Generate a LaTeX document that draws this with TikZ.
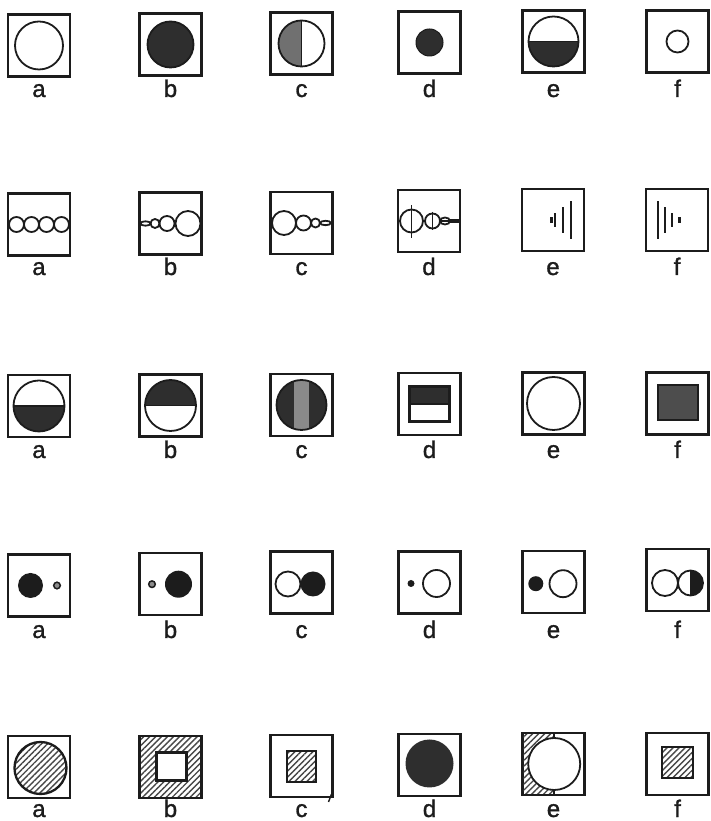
\documentclass[tikz,border=0pt]{standalone}
\usepackage{fontspec}
\setmainfont{Liberation Sans}
\newfontfamily\labfont[FakeBold=1.2]{Liberation Sans}
\usetikzlibrary{patterns.meta}
\definecolor{ink}{HTML}{1C1C1C}
\definecolor{darkfill}{HTML}{2E2E2E}
\definecolor{midfill}{HTML}{707070}
\definecolor{bandfill}{HTML}{8A8A8A}
\begin{document}
\begin{tikzpicture}[x=1pt,y=1pt,
  cell/.style={draw=ink,line width=2.3pt,minimum size=62pt,inner sep=0pt,outer sep=0pt},
  lab/.style={anchor=base,font=\labfont\fontsize{24}{24}\selectfont,text=ink,inner sep=0pt},
  ln/.style={draw=ink,line width=1.8pt},
  bar/.style={draw=ink,line width=2.3pt},
  hatch/.style={pattern={Lines[angle=45,distance=4.2pt,line width=1.4pt]},pattern color=black!72},
]
\useasboundingbox (0,0) rectangle (710,821);

% ---------------- Row 1 ----------------
\node[cell] (r1a) at (39,775.5) {};
\node[cell] (r1b) at (170.5,776.5) {};
\node[cell] (r1c) at (301.5,777.5) {};
\node[cell] (r1d) at (429.5,778.5) {};
\node[cell] (r1e) at (553.5,779.5) {};
\node[cell] (r1f) at (677.5,779.5) {};
\begin{scope}[shift={(r1a)}] \draw[ln] (0,0) circle (24); \end{scope}
\begin{scope}[shift={(r1b)}] \fill[darkfill] (0,0) circle (23); \draw[ln] (0,0) circle (23); \end{scope}
\begin{scope}[shift={(r1c)}]
  \fill[midfill] (0,23) arc[start angle=90,end angle=270,radius=23] -- cycle;
  \draw[ln] (0,0) circle (23); \draw[ln] (0,23) -- (0,-23);
\end{scope}
\begin{scope}[shift={(r1d)}] \fill[darkfill] (0,0) circle (13.5); \draw[ln,line width=1pt] (0,0) circle (13.5); \end{scope}
\begin{scope}[shift={(r1e)}]
  \fill[darkfill] (-25,0) arc[start angle=180,end angle=360,radius=25] -- cycle;
  \draw[ln] (0,0) circle (25); \draw[ln] (-25,0) -- (25,0);
\end{scope}
\begin{scope}[shift={(r1f)}] \draw[ln] (0,0) circle (11); \end{scope}
\node[lab] (l1a) at (39,724) {a};
\node[lab] (l1b) at (170.5,724) {b};
\node[lab] (l1c) at (301.5,724) {c};
\node[lab] (l1d) at (429.5,724) {d};
\node[lab] (l1e) at (553.5,724) {e};
\node[lab] (l1f) at (677.5,724) {f};

% ---------------- Row 2 ----------------
\node[cell] (r2a) at (39,596.5) {};
\node[cell] (r2b) at (170.5,597.5) {};
\node[cell] (r2c) at (301.5,598) {};
\node[cell] (r2d) at (429,600) {};
\node[cell] (r2e) at (553,601) {};
\node[cell] (r2f) at (677,601) {};
\begin{scope}[shift={(r2a)}]
  \foreach \dx in {-22.5,-7.5,7.5,22.5} \draw[ln] (\dx,0) circle (7.5);
\end{scope}
\begin{scope}[shift={(r2b)}]
  \draw[ln] (-25,0) ellipse [x radius=5,y radius=2.2];
  \draw[ln] (-15.5,0) circle (4.5);
  \draw[ln] (-3.5,0) circle (7.5);
  \draw[ln] (17.5,0) circle (12.5);
\end{scope}
\begin{scope}[shift={(r2c)}]
  \draw[ln] (-17.5,0) circle (12);
  \draw[ln] (2,0) circle (7.5);
  \draw[ln] (14,0) circle (4.5);
  \draw[ln] (24,0) ellipse [x radius=5.5,y radius=2.2];
\end{scope}
\begin{scope}[shift={(r2d)}]
  \draw[ln] (-17.5,0) circle (11.5); \draw[ln] (-17.5,15.5) -- (-17.5,-17.5);
  \draw[ln] (3.5,0) circle (7.5); \draw[ln] (3.5,9) -- (3.5,-9);
  \draw[ln] (16,0) ellipse [x radius=5,y radius=3.5]; \draw[ln] (11,0) -- (21,0);
  \fill[ink] (21,-2.2) rectangle (30,2.2);
\end{scope}
\begin{scope}[shift={(r2e)}]
  \draw[bar,line width=3pt] (-2,-3) -- (-2,3);
  \draw[bar] (2,-7) -- (2,7);
  \draw[bar] (10,-13) -- (10,13);
  \draw[bar] (18,-19) -- (18,19);
\end{scope}
\begin{scope}[shift={(r2f)}]
  \draw[bar] (-19,-19) -- (-19,19);
  \draw[bar] (-12,-13) -- (-12,13);
  \draw[bar] (-5,-7) -- (-5,7);
  \draw[bar,line width=3pt] (2,-3) -- (2,3);
\end{scope}
\node[lab] (l2a) at (39,546) {a};
\node[lab] (l2b) at (170.5,546) {b};
\node[lab] (l2c) at (301.5,546) {c};
\node[lab] (l2d) at (429,546) {d};
\node[lab] (l2e) at (553,546) {e};
\node[lab] (l2f) at (677,546) {f};

% ---------------- Row 3 ----------------
\node[cell] (r3a) at (39,415) {};
\node[cell] (r3b) at (170.5,415.5) {};
\node[cell] (r3c) at (301.5,416) {};
\node[cell] (r3d) at (429.5,417) {};
\node[cell] (r3e) at (553.5,417.5) {};
\node[cell] (r3f) at (677.5,417.5) {};
\begin{scope}[shift={(r3a)}]
  \fill[darkfill] (-25.5,0) arc[start angle=180,end angle=360,radius=25.5] -- cycle;
  \draw[ln] (0,0) circle (25.5); \draw[ln] (-25.5,0) -- (25.5,0);
\end{scope}
\begin{scope}[shift={(r3b)}]
  \fill[darkfill] (-25.5,0) arc[start angle=180,end angle=0,radius=25.5] -- cycle;
  \draw[ln] (0,0) circle (25.5); \draw[ln] (-25.5,0) -- (25.5,0);
\end{scope}
\begin{scope}[shift={(r3c)}]
  \fill[darkfill] (0,0) circle (25);
  \begin{scope} \clip (0,0) circle (25); \fill[bandfill] (-8,-25) rectangle (7,25); \end{scope}
  \draw[ln] (0,0) circle (25);
\end{scope}
\begin{scope}[shift={(r3d)}]
  \fill[darkfill] (-20,0) rectangle (20,17.5);
  \draw[ln,line width=2.2pt] (-20,-17.5) rectangle (20,17.5);
  \draw[ln] (-20,0) -- (20,0);
\end{scope}
\begin{scope}[shift={(r3e)}] \draw[ln] (0,0) circle (26.5); \end{scope}
\begin{scope}[shift={(r3f)}]
  \fill[darkfill!85!white] (-19.5,-16.5) rectangle (20.5,18.5);
  \draw[ln,line width=2.2pt] (-19.5,-16.5) rectangle (20.5,18.5);
\end{scope}
\node[lab] (l3a) at (39,363) {a};
\node[lab] (l3b) at (170.5,363) {b};
\node[lab] (l3c) at (301.5,363) {c};
\node[lab] (l3d) at (429.5,363) {d};
\node[lab] (l3e) at (553.5,363) {e};
\node[lab] (l3f) at (677.5,363) {f};

% ---------------- Row 4 ----------------
\node[cell] (r4a) at (39,235.5) {};
\node[cell] (r4b) at (170.5,236.8) {};
\node[cell] (r4c) at (301.5,238.5) {};
\node[cell] (r4d) at (429.5,238.5) {};
\node[cell] (r4e) at (553.5,239.3) {};
\node[cell] (r4f) at (677.5,241) {};
\begin{scope}[shift={(r4a)}]
  \fill[ink] (-8.5,0) circle (12.5);
  \draw[ln,line width=1.5pt,fill=black!45] (18,0) circle (3.3);
\end{scope}
\begin{scope}[shift={(r4b)}]
  \draw[ln,line width=1.5pt,fill=black!45] (-18.5,0) circle (3.3);
  \fill[ink] (8,0) circle (13.5);
\end{scope}
\begin{scope}[shift={(r4c)}]
  \draw[ln] (-13.5,-1.5) circle (12.5);
  \fill[ink] (11.5,-1.5) circle (12.5);
\end{scope}
\begin{scope}[shift={(r4d)}]
  \fill[ink] (-18.5,-1) circle (3.5);
  \draw[ln] (7,-1) circle (13.5);
\end{scope}
\begin{scope}[shift={(r4e)}]
  \fill[ink] (-17.7,-2) circle (7.5);
  \draw[ln] (9.5,-2) circle (13.5);
\end{scope}
\begin{scope}[shift={(r4f)}]
  \draw[ln] (-12.5,-3) circle (13);
  \fill[ink] (13,9.5) arc[start angle=90,end angle=-90,radius=12.5] -- cycle;
  \draw[ln] (13,-3) circle (12.5); \draw[ln] (13,9.5) -- (13,-15.5);
\end{scope}
\node[lab] (l4a) at (39,183) {a};
\node[lab] (l4b) at (170.5,183) {b};
\node[lab] (l4c) at (301.5,183) {c};
\node[lab] (l4d) at (429.5,183) {d};
\node[lab] (l4e) at (553.5,183) {e};
\node[lab] (l4f) at (677.5,183) {f};

% ---------------- Row 5 ----------------
\node[cell] (r5a) at (39,54) {};
\node[cell,hatch] (r5b) at (170.5,54) {};
\node[cell] (r5c) at (301.5,55) {};
\node[cell] (r5d) at (429.5,56) {};
\node[cell] (r5e) at (553.5,57) {};
\node[cell] (r5f) at (677.5,57) {};
\begin{scope}[shift={(r5a)}]
  \draw[ln,line width=2.3pt,hatch] (1.5,-1) circle (26);
\end{scope}
\begin{scope}[shift={(r5b)}]
  \draw[ln,line width=2.3pt,fill=white] (-14,-13.5) rectangle (16,14.5);
\end{scope}
\begin{scope}[shift={(r5c)}]
  \draw[ln,line width=2.3pt,hatch] (-14.5,-16) rectangle (14.5,15);
  \draw[ln,line width=1.4pt] (30,-28) -- (27,-36);
\end{scope}
\begin{scope}[shift={(r5d)}]
  \fill[darkfill] (0,1.5) circle (24);
\end{scope}
\begin{scope}[shift={(r5e)}]
  \begin{scope}
    \clip (-30,-30) rectangle (0.7,30);
    \fill[hatch,even odd rule] (-30,-30) rectangle (30,30) (0.7,0) circle (26);
  \end{scope}
  \draw[ln] (0.7,0) circle (26);
  \draw[ln] (0.7,26) -- (0.7,31);
  \draw[ln] (0.7,-26) -- (0.7,-31);
\end{scope}
\begin{scope}[shift={(r5f)}]
  \draw[ln,line width=2.3pt,hatch] (-15.5,-14) rectangle (15.5,17);
\end{scope}
\node[lab] (l5a) at (39,4) {a};
\node[lab] (l5b) at (170.5,4) {b};
\node[lab] (l5c) at (301.5,4) {c};
\node[lab] (l5d) at (429.5,4) {d};
\node[lab] (l5e) at (553.5,4) {e};
\node[lab] (l5f) at (677.5,4) {f};
\end{tikzpicture}
\end{document}
